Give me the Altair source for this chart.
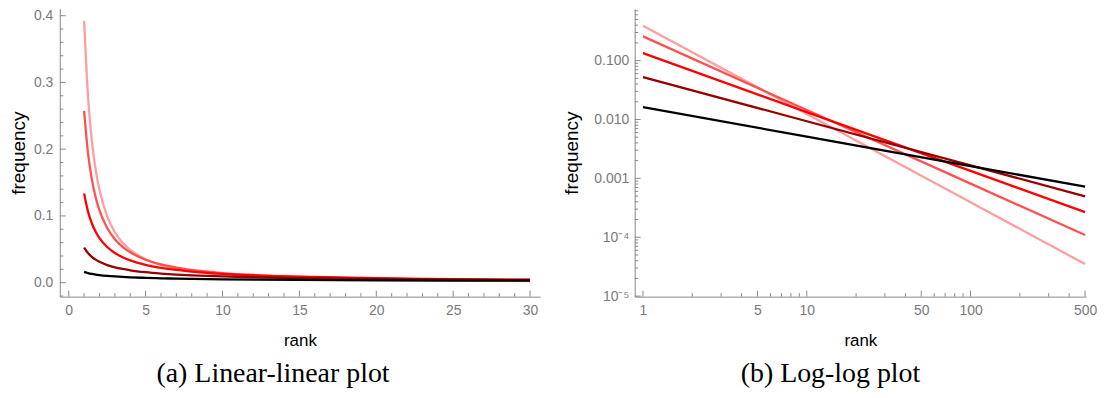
import altair as alt
import pandas as pd

# ---------------- data ----------------
series = ["s=1.5", "s=1.25", "s=1.0", "s=0.75", "s=0.5"]
colors = ["#ff9e9e", "#ff5050", "#ff0000", "#960000", "#000000"]

lin_rank = [1, 1.25, 1.5, 1.75, 2, 2.5, 3, 3.5, 4, 5, 6, 7, 8, 10, 12, 15, 20, 25, 30]
lin_s1 = [0.3923, 0.28072, 0.21354, 0.16946, 0.13870, 0.09925, 0.07550, 0.05991, 0.04904,
          0.03509, 0.02669, 0.02118, 0.01734, 0.01241, 0.00944, 0.00675, 0.00439, 0.00314, 0.00239]
lin_s2 = [0.2575, 0.19482, 0.15512, 0.12793, 0.10827, 0.08191, 0.06522, 0.05379, 0.04552,
          0.03444, 0.02742, 0.02262, 0.01914, 0.01448, 0.01153, 0.00872, 0.00609, 0.00461, 0.00367]
lin_s3 = [0.13359, 0.10687, 0.08906, 0.07634, 0.06680, 0.05344, 0.04453, 0.03817, 0.03340,
          0.02672, 0.02227, 0.01908, 0.01670, 0.01336, 0.01113, 0.00891, 0.00668, 0.00534, 0.00445]
lin_s4 = [0.05248, 0.04439, 0.03872, 0.03449, 0.03121, 0.02640, 0.02302, 0.02051, 0.01855,
          0.01570, 0.01369, 0.01219, 0.01103, 0.00933, 0.00814, 0.00689, 0.00555, 0.00469, 0.00409]
lin_s5 = [0.016181, 0.014473, 0.013212, 0.012232, 0.011442, 0.010234, 0.009342, 0.008649, 0.008091,
          0.007236, 0.006606, 0.006116, 0.005721, 0.005117, 0.004671, 0.004178, 0.003618, 0.003236, 0.002954]

log_rank = [1, 10, 100, 500]
log_s1 = [0.3923, 0.012406, 0.0003923, 0.00003509]
log_s2 = [0.2575, 0.014480, 0.0008143, 0.00010891]
log_s3 = [0.13359, 0.013359, 0.0013359, 0.00026718]
log_s4 = [0.05248, 0.009333, 0.0016596, 0.0004963]
log_s5 = [0.016181, 0.005117, 0.0016181, 0.0007236]

# tick values
lin_x_major = [0, 5, 10, 15, 20, 25, 30]
lin_x_minor = [1, 2, 3, 4, 6, 7, 8, 9, 11, 12, 13, 14, 16, 17, 18, 19, 21, 22, 23, 24, 26, 27, 28, 29]
lin_y_major = [0.0, 0.1, 0.2, 0.3, 0.4]
lin_y_minor = [-0.02, 0.02, 0.04, 0.06, 0.08, 0.12, 0.14, 0.16, 0.18, 0.22, 0.24, 0.26, 0.28,
               0.32, 0.34, 0.36, 0.38]
log_x_major = [1, 5, 10, 50, 100, 500]
log_x_minor = [2, 3, 4, 6, 7, 8, 9, 20, 30, 40, 60, 70, 80, 90, 200, 300, 400]
log_y_major = [0.00001, 0.0001, 0.001, 0.01, 0.1]
log_y_minor = [2e-5, 3e-5, 4e-5, 5e-5, 6e-5, 7e-5, 8e-5, 9e-5,
               2e-4, 3e-4, 4e-4, 5e-4, 6e-4, 7e-4, 8e-4, 9e-4,
               0.002, 0.003, 0.004, 0.005, 0.006, 0.007, 0.008, 0.009,
               0.02, 0.03, 0.04, 0.05, 0.06, 0.07, 0.08, 0.09,
               0.2, 0.3, 0.4, 0.5, 0.6, 0.7]

# ---------------- styling ----------------
AX = "#8a8a8a"
LAB = "#7a7a7a"
SANS = "Liberation Sans"
SERIF = "Liberation Serif"
W1, W2, H = 482, 453, 289


def make_df(ranks, lists):
    rows = []
    for name, vals in zip(series, lists):
        for r, v in zip(ranks, vals):
            rows.append({"rank": r, "freq": v, "s": name})
    return pd.DataFrame(rows)


lin_df = make_df(lin_rank, [lin_s1, lin_s2, lin_s3, lin_s4, lin_s5])
log_df = make_df(log_rank, [log_s1, log_s2, log_s3, log_s4, log_s5])

color = alt.Color("s:N", scale=alt.Scale(domain=series, range=colors), legend=None)


def tick_layers(xsc, ysc, xmaj, xmin, ymaj, ymin, h):
    layers = []
    for vals, ln in ((xmaj, 6), (xmin, 3.5)):
        layers.append(
            alt.Chart(pd.DataFrame({"v": vals})).mark_rule(color=AX, strokeWidth=1).encode(
                x=alt.X("v:Q", scale=xsc, axis=None),
                y=alt.value(h), y2=alt.value(h - ln)))
    for vals, ln in ((ymaj, 6), (ymin, 3.5)):
        layers.append(
            alt.Chart(pd.DataFrame({"v": vals})).mark_rule(color=AX, strokeWidth=1).encode(
                y=alt.Y("v:Q", scale=ysc, axis=None),
                x=alt.value(0), x2=alt.value(ln)))
    return layers


axis_common = dict(grid=False, ticks=False, domainColor=AX, domainWidth=1,
                   labelColor=LAB, labelFont=SANS, labelFontSize=14,
                   titleFont=SANS, titleColor="black",
                   titleFontWeight="normal", labelOverlap=False, labelFlush=False)

cap_style = dict(orient="bottom", anchor="middle", font=SERIF, fontSize=28,
                 fontWeight="normal", color="black", offset=12)

# ---------- left: linear-linear ----------
lx = alt.Scale(domain=[-0.58, 30.65], nice=False, zero=False)
ly = alt.Scale(domain=[-0.0209, 0.41045], nice=False, zero=False)

lin_lines = alt.Chart(lin_df).mark_line(strokeWidth=2.3, interpolate="monotone").encode(
    x=alt.X("rank:Q", scale=lx, axis=alt.Axis(title="rank", values=lin_x_major, format="d",
                                             labelPadding=7, titlePadding=15, titleFontSize=17,
                                             **axis_common)),
    y=alt.Y("freq:Q", scale=ly, axis=alt.Axis(title="frequency", values=lin_y_major, format=".1f",
                                              labelPadding=7, minExtent=26, maxExtent=26,
                                              titlePadding=5, titleFontSize=19, **axis_common)),
    color=color)

left = alt.layer(
    lin_lines, *tick_layers(lx, ly, lin_x_major, lin_x_minor, lin_y_major, lin_y_minor, H)
).resolve_axis(x="independent", y="independent").properties(
    width=W1, height=H,
    title=alt.TitleParams("(a) Linear-linear plot", dx=-27, **cap_style))

# ---------- right: log-log ----------
rx = alt.Scale(type="log", domain=[0.89, 507], nice=False)
ry = alt.Scale(type="log", domain=[0.98e-5, 0.761], nice=False)

log_lines = alt.Chart(log_df).mark_line(strokeWidth=2.3).encode(
    x=alt.X("rank:Q", scale=rx, axis=alt.Axis(title="rank", values=log_x_major, format="d",
                                             labelPadding=7, titlePadding=15, titleFontSize=17,
                                             **axis_common)),
    y=alt.Y("freq:Q", scale=ry, axis=alt.Axis(
        title="frequency", values=log_y_major,
        labelExpr="datum.value > 0.0005 ? format(datum.value, '.3f') : (datum.value > 0.00005 ? '10⁻⁴' : '10⁻⁵')",
        labelPadding=6, minExtent=44, maxExtent=44, titlePadding=9, titleFontSize=19,
        **axis_common)),
    color=color)

right = alt.layer(
    log_lines, *tick_layers(rx, ry, log_x_major, log_x_minor, log_y_major, log_y_minor, H)
).resolve_axis(x="independent", y="independent").properties(
    width=W2, height=H,
    title=alt.TitleParams("(b) Log-log plot", dx=-30, **cap_style))

chart = alt.hconcat(left, right, spacing=95, bounds="flush").properties(
    padding={"left": 2, "top": 0, "right": 0, "bottom": 0}
).configure_view(stroke=None)

chart.save("out.html", embed_options={"renderer": "svg", "actions": False})
